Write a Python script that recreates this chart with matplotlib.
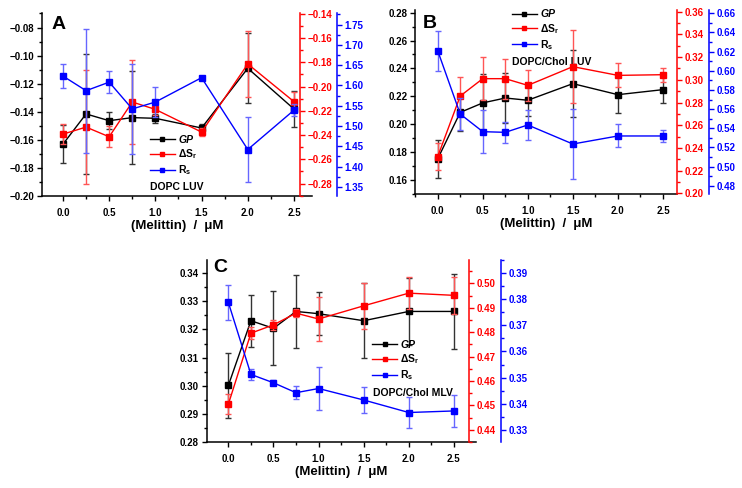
import numpy as np
import matplotlib.pyplot as plt
from matplotlib.ticker import MultipleLocator, AutoMinorLocator, FuncFormatter
from matplotlib.lines import Line2D

plt.rcParams['font.family'] = ['Liberation Sans', 'DejaVu Sans']
plt.rcParams['font.weight'] = 'bold'
plt.rcParams['mathtext.fontset'] = 'custom'
plt.rcParams['mathtext.rm'] = 'Liberation Sans:bold'
plt.rcParams['mathtext.it'] = 'Liberation Sans:italic:bold'
plt.rcParams['axes.unicode_minus'] = True

melittin = [0.0, 0.25, 0.5, 0.75, 1.0, 1.5, 2.0, 2.5]

# Panel A: DOPC LUV
a_gp = [-0.163, -0.1415, -0.1463, -0.1441, -0.1446, -0.1515, -0.109, -0.138]
a_gp_err = [0.0136, 0.043, 0.006, 0.033, 0.003, 0.003, 0.025, 0.013]
a_ds = [-0.2392, -0.2334, -0.2414, -0.2127, -0.2188, -0.2375, -0.1813, -0.2124]
a_ds_err = [0.008, 0.047, 0.0085, 0.035, 0.005, 0.003, 0.027, 0.008]
a_rs = [1.623, 1.587, 1.608, 1.542, 1.559, 1.619, 1.442, 1.539]
a_rs_err = [0.03, 0.153, 0.027, 0.11, 0.037, 0.003, 0.079, 0.015]

# Panel B: DOPC/Chol LUV
b_gp = [0.1752, 0.2085, 0.2153, 0.2188, 0.2172, 0.2291, 0.2212, 0.2248]
b_gp_err = [0.0134, 0.013, 0.021, 0.018, 0.011, 0.024, 0.013, 0.0095]
b_ds = [0.2323, 0.2857, 0.301, 0.301, 0.2951, 0.3116, 0.3039, 0.3045]
b_ds_err = [0.012, 0.0166, 0.019, 0.0176, 0.0135, 0.032, 0.0106, 0.006]
b_rs = [0.621, 0.5548, 0.5364, 0.5357, 0.5434, 0.5235, 0.5319, 0.5319]
b_rs_err = [0.021, 0.017, 0.0226, 0.011, 0.0157, 0.037, 0.012, 0.0066]

# Panel C: DOPC/Chol MLV
c_gp = [0.3001, 0.3231, 0.3204, 0.3264, 0.3256, 0.3231, 0.3264, 0.3264]
c_gp_err = [0.0115, 0.0092, 0.0132, 0.013, 0.0076, 0.0133, 0.012, 0.0134]
c_ds = [0.4505, 0.4796, 0.483, 0.4878, 0.4854, 0.4908, 0.496, 0.4951]
c_ds_err = [0.004, 0.0025, 0.002, 0.0015, 0.0092, 0.0093, 0.0065, 0.0075]
c_rs = [0.3788, 0.3512, 0.348, 0.3442, 0.3458, 0.3414, 0.3366, 0.3372]
c_rs_err = [0.0067, 0.002, 0.001, 0.0024, 0.0083, 0.005, 0.006, 0.006]

RED = '#ff0000'
BLUE = '#0000ff'


def fmt(d):
    return FuncFormatter(lambda v, p: f"{v:.{d}f}".replace('-', '\u2212'))


def style_ticks(ax, axis, color):
    ax.tick_params(axis=axis, which='major', direction='out', length=3.5, width=1,
                   pad=2, labelsize=7, colors=color)
    ax.tick_params(axis=axis, which='minor', direction='out', length=2, width=1, colors=color)


def panel(fig, rect, letter, letter_xy, gp, gp_err, ds, ds_err, rs, rs_err,
          xlim, ylim, ylim_r, ylim_b, steps, dec, red_pos, blue_pos,
          leg_xy, label, label_xy):
    ax = fig.add_axes(rect)
    axr = ax.twinx()
    axb = ax.twinx()

    eb = dict(capsize=2.2, elinewidth=1, capthick=1, lw=1, marker='s', ms=4)
    ax.errorbar(melittin, gp, yerr=gp_err, color='black', ecolor='#333333', zorder=3, **eb)
    axr.errorbar(melittin, ds, yerr=ds_err, color=RED, ecolor='#ff5555', zorder=3, **eb)
    axb.errorbar(melittin, rs, yerr=rs_err, color=BLUE, ecolor='#6666ff', zorder=3, **eb)

    ax.set_xlim(*xlim)
    ax.set_ylim(*ylim)
    axr.set_ylim(*ylim_r)
    axb.set_ylim(*ylim_b)

    for s in ['top', 'right']:
        ax.spines[s].set_visible(False)
    for a in (axr, axb):
        for s in ['top', 'left', 'bottom']:
            a.spines[s].set_visible(False)
    ax.spines['left'].set_linewidth(1.1)
    ax.spines['bottom'].set_linewidth(1.1)
    axr.spines['right'].set_position(('axes', red_pos))
    axr.spines['right'].set_color(RED)
    axr.spines['right'].set_linewidth(1.1)
    axb.spines['right'].set_position(('axes', blue_pos))
    axb.spines['right'].set_color(BLUE)
    axb.spines['right'].set_linewidth(1.1)

    ax.xaxis.set_major_locator(MultipleLocator(0.5))
    ax.xaxis.set_minor_locator(MultipleLocator(0.25))
    ax.xaxis.set_major_formatter(fmt(1))
    ax.yaxis.set_major_locator(MultipleLocator(steps[0]))
    ax.yaxis.set_minor_locator(AutoMinorLocator(2))
    ax.yaxis.set_major_formatter(fmt(2))
    axr.yaxis.set_major_locator(MultipleLocator(steps[1]))
    axr.yaxis.set_minor_locator(AutoMinorLocator(2))
    axr.yaxis.set_major_formatter(fmt(dec[1]))
    axb.yaxis.set_major_locator(MultipleLocator(steps[2]))
    axb.yaxis.set_minor_locator(AutoMinorLocator(2))
    axb.yaxis.set_major_formatter(fmt(dec[2]))

    style_ticks(ax, 'both', 'black')
    ax.tick_params(axis='x', which='major', pad=5)
    style_ticks(axr, 'y', RED)
    style_ticks(axb, 'y', BLUE)

    ax.set_xlabel('(Melittin)  /  \u03bcM', fontsize=9.5, fontweight='bold', labelpad=1.5)
    ax.text(letter_xy[0], letter_xy[1], letter, transform=ax.transAxes,
            fontsize=14, fontweight='bold', va='center', ha='left')

    handles = [Line2D([], [], color='black', marker='s', ms=3.5, lw=1),
               Line2D([], [], color=RED, marker='s', ms=3.5, lw=1),
               Line2D([], [], color=BLUE, marker='s', ms=3.5, lw=1)]
    labels = ['GP', '\u0394S$_\\mathregular{r}$', 'R$_\\mathregular{s}$']
    leg = axb.legend(handles, labels, loc='upper left', bbox_to_anchor=leg_xy,
                     bbox_transform=ax.transAxes, frameon=False, fontsize=7.5,
                     handlelength=2.4, handletextpad=0.3, borderpad=0,
                     borderaxespad=0, labelspacing=0.22)
    leg.get_texts()[0].set_style('italic')
    ax.text(label_xy[0], label_xy[1], label, transform=ax.transAxes,
            fontsize=7.5, fontweight='bold', va='center', ha='left')
    return ax


fig = plt.figure(figsize=(7.42, 4.88), dpi=100)

panel(fig, [0.0566, 0.598, 0.3635, 0.375], 'A', (0.037, 0.94),
      a_gp, a_gp_err, a_ds, a_ds_err, a_rs, a_rs_err,
      (-0.227, 2.692), (-0.20, -0.0698), (-0.2904, -0.1394), (1.327, 1.778),
      (0.02, 0.02, 0.05), (2, 2, 2), 0.957, 1.094,
      (0.400, 0.334), 'DOPC LUV', (0.400, 0.05))

panel(fig, [0.5593, 0.6025, 0.3531, 0.377], 'B', (0.03, 0.924),
      b_gp, b_gp_err, b_ds, b_ds_err, b_rs, b_rs_err,
      (-0.252, 2.656), (0.15, 0.2819), (0.1994, 0.3615), (0.4713, 0.6635),
      (0.02, 0.02, 0.02), (2, 2, 2), 1.0, 1.122,
      (0.370, 1.003), 'DOPC/Chol LUV', (0.370, 0.717))

panel(fig, [0.2786, 0.0943, 0.363, 0.373], 'C', (0.023, 0.956),
      c_gp, c_gp_err, c_ds, c_ds_err, c_rs, c_rs_err,
      (-0.24, 2.746), (0.28, 0.3447), (0.435, 0.5096), (0.3253, 0.3951),
      (0.01, 0.01, 0.01), (2, 2, 2), 0.975, 1.092,
      (0.614, 0.56), 'DOPC/Chol MLV', (0.616, 0.269))

fig.savefig('out.png', dpi=100)
